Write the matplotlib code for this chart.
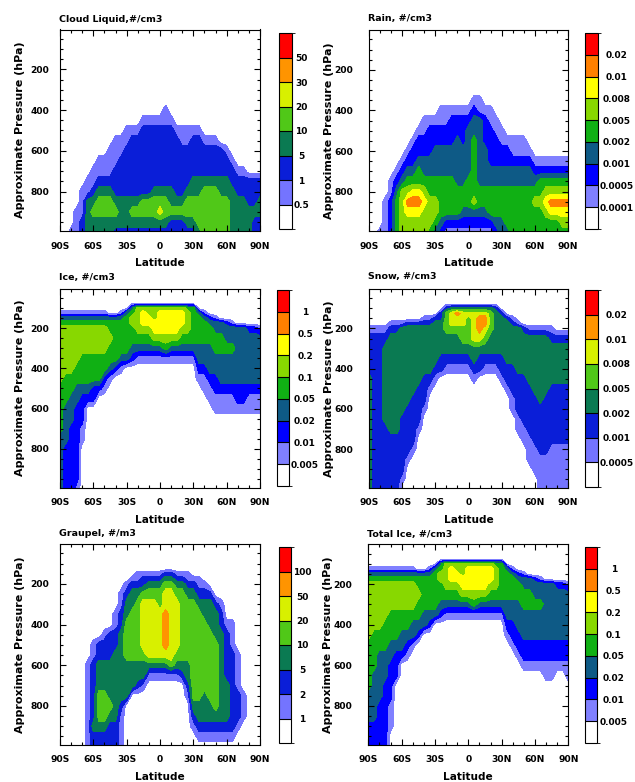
import numpy as np
import matplotlib.pyplot as plt
from matplotlib.colors import ListedColormap, BoundaryNorm
from matplotlib.cm import ScalarMappable
from matplotlib.ticker import MultipleLocator

plt.rcParams["font.family"] = "DejaVu Sans"
plt.rcParams["font.weight"] = "bold"
plt.rcParams["axes.labelweight"] = "bold"

W, H = 635, 782

# grid the colour bands were read on
lats = list(range(-90, 91, 5))
plev = [50, 75, 100, 125, 150, 175, 200, 250, 300, 350, 400, 450, 500,
        550, 600, 650, 700, 750, 800, 850, 900, 950, 1000]

lat_ticks = [-90, -60, -30, 0, 30, 60, 90]
lat_labels = ["90S", "60S", "30S", "0", "30N", "60N", "90N"]
p_ticks = [200, 400, 600, 800]

pal8 = ["#ffffff", "#7474ff", "#0a1ed8", "#0a7a52", "#50c818", "#d8f000", "#ff9400", "#ff0000"]
pal9 = ["#ffffff", "#8080ff", "#0000ff", "#0e5a86", "#10b014", "#88d800", "#ffff00", "#ff8000", "#ff0000"]

liq_levels = ["0.5", "1", "5", "10", "20", "30", "50"]
rain_levels = ["0.0001", "0.0005", "0.001", "0.002", "0.005", "0.008", "0.01", "0.02"]
ice_levels = ["0.005", "0.01", "0.02", "0.05", "0.1", "0.2", "0.5", "1"]
snow_levels = ["0.0005", "0.001", "0.002", "0.005", "0.008", "0.01", "0.02"]
graupel_levels = ["1", "2", "5", "10", "20", "50", "100"]
totice_levels = ["0.005", "0.01", "0.02", "0.05", "0.1", "0.2", "0.5", "1"]

# one string per latitude (90S -> 90N), one digit per pressure level (50 -> 1000 hPa):
# index of the colour band seen in the picture at that point (0 = white)
liq_band = [
    "00000000000000000000000", "00000000000000000000000", "00000000000000000000001",
    "00000000000000000000111", "00000000000000000011122", "00000000000000000113333",
    "00000000000000001123433", "00000000000000011234433", "00000000000000011234433",
    "00000000000000111234433", "00000000000001112223432", "00000000000001122223332",
    "00000000000011222223332", "00000000000012222223432", "00000000000012222223432",
    "00000000000122222224432", "00000000000122222224432", "00000000000122222234432",
    "00000000000122222234532", "00000000001122222234432", "00000000000122222233422",
    "00000000000012222223422", "00000000000011222223422", "00000000000011222234432",
    "00000000000012222334432", "00000000000012222334443", "00000000000001222344444",
    "00000000000001222344444", "00000000000001222344444", "00000000000000222334444",
    "00000000000000122334444", "00000000000000012233333", "00000000000000001223333",
    "00000000000000001223333", "00000000000000000222333", "00000000000000000222322",
    "00000000000000000223322",
]
rain_band = [
    "00000000000000000000000", "00000000000000000000000", "00000000000000000000001",
    "00000000000000000001111", "00000000000000000112222", "00000000000000001234444",
    "00000000000000012355555", "00000000000000123457655", "00000000000001223467655",
    "00000000000012234467655", "00000000000112233456555", "00000000000122233445554",
    "00000000000122333445543", "00000000001122333444432", "00000000001122333444421",
    "00000000001222333444421", "00000000001223333344421", "00000000001222333344321",
    "00000000001233333444321", "00000000012334444445321", "00000000011333333344321",
    "00000000001222333344321", "00000000001122223344421", "00000000000112223344432",
    "00000000000011223344433", "00000000000001223344443", "00000000000001123344444",
    "00000000000001123344444", "00000000000001123344444", "00000000000000123344444",
    "00000000000000012345444", "00000000000000012445444", "00000000000000012456544",
    "00000000000000012457644", "00000000000000012457644", "00000000000000012457654",
    "00000000000000012457654",
]
ice_band = [
    "00013455555544444333333", "00013455555444333322222", "00013455555443332222222",
    "00013455554433222222221", "00013455544432221100000", "00013455544432000000000",
    "00013455544422000000000", "00013455544420000000000", "00013455544210000000000",
    "00003445443100000000000", "00003444442000000000000", "00013444431000000000000",
    "00034444430000000000000", "00345544320000000000000", "00555554310000000000000",
    "00566654310000000000000", "00556654310000000000000", "00555665310000000000000",
    "00566665310000000000000", "00566665410000000000000", "00566665310000000000000",
    "00566665310000000000000", "00566654310000000000000", "00455554310000000000000",
    "00444444310000000000000", "00034444332100000000000", "00013444332110000000000",
    "00002344333211000000000", "00001334433221100000000", "00000334433321100000000",
    "00000233433321100000000", "00000133433321100000000", "00000033333322100000000",
    "00000033333322100000000", "00000023333321100000000", "00000023333321100000000",
    "00000013333321100000000",
]
snow_band = [
    "00000012222333333333333", "00000012222222222222222", "00000012222222222222222",
    "00000012333333332222222", "00000123333333333222222", "00000123333333333222222",
    "00000133333333322222210", "00000233333333222221000", "00000233333332222210000",
    "00000233333322221000000", "00001233333222100000000", "00001233333210000000000",
    "00002333332100000000000", "00022333322000000000000", "00244443321000000000000",
    "00355543321000000000000", "00365543321000000000000", "00355544321000000000000",
    "00354444321000000000000", "00355555332100000000000", "00356665322000000000000",
    "00356654321000000000000", "00344443321000000000000", "00233333321000000000000",
    "00023333322100000000000", "00002333332210000000000", "00001233332221100000000",
    "00000133333222211000000", "00000023333222221100000", "00000013333322222111000",
    "00000013333332222211100", "00000013333333222221111", "00000013333332222221111",
    "00000012333322222211111", "00000002333322222211111", "00000002333322222211111",
    "00000002333322222211111",
]
graupel_band = [
    "00000000000000000000000", "00000000000000000000000", "00000000000000000000000",
    "00000000000000000000000", "00000000000000000000000", "00000000000000111111111",
    "00000000000011222222322", "00000000000022333444322", "00000000000122333444322",
    "00000000000222333343222", "00000000011223333333222", "00000001122333333321111",
    "00000012334444333300000", "00000123344444333000000", "00001123444444332000000",
    "00001224555554331000000", "00001234555555310000000", "00001234555555310000000",
    "00001234455555310000000", "00002345566665310000000", "00002345555555410000000",
    "00001234555554310000000", "00001234444444320000000", "00001123444444332100000",
    "00000123444444444432100", "00000112344444444433210", "00000012334444444333210",
    "00000002333444444433210", "00000000233344444443210", "00000000122333333333210",
    "00000000001222223333210", "00000000001112222222210", "00000000000001111222100",
    "00000000000000000111000", "00000000000000000000000", "00000000000000000000000",
    "00000000000000000000000",
]
totice_band = [
    "00013455555544444333222", "00013455555444433333222", "00013455555443333322222",
    "00013455554443332222222", "00013455544433222211100", "00013455544432220000000",
    "00013455544332000000000", "00013455544321000000000", "00013455543310000000000",
    "00003445443200000000000", "00003444433000000000000", "00013444432000000000000",
    "00034444430000000000000", "00345544320000000000000", "00555554310000000000000",
    "00566654310000000000000", "00556654310000000000000", "00555665310000000000000",
    "00566665310000000000000", "00566665410000000000000", "00566665310000000000000",
    "00566665310000000000000", "00566654310000000000000", "00455554310000000000000",
    "00444444310000000000000", "00034444332100000000000", "00013444332210000000000",
    "00002344333221000000000", "00001334433322100000000", "00000334433322100000000",
    "00000233433322100000000", "00000133433322100000000", "00000033333322110000000",
    "00000033333322110000000", "00000023333322100000000", "00000023333322100000000",
    "00000013333322110000000",
]

# pixel boxes: axes, colour bar, title centre y, label centre x of the bar
panels = [
    dict(title="Cloud Liquid,#/cm3", band=liq_band, pal=pal8, labels=liq_levels,
         ax=(60, 29.5, 260, 230.7), cb=(279, 33, 292, 229), ty=19, cbx=301.5),
    dict(title="Rain, #/cm3", band=rain_band, pal=pal9, labels=rain_levels,
         ax=(369, 30, 568, 230.7), cb=(585, 33, 598, 229), ty=19, cbx=617),
    dict(title="Ice, #/cm3", band=ice_band, pal=pal9, labels=ice_levels,
         ax=(60, 288.5, 260, 487.7), cb=(277, 290, 289, 486), ty=277, cbx=305),
    dict(title="Snow, #/cm3", band=snow_band, pal=pal8, labels=snow_levels,
         ax=(369, 289, 568, 487.7), cb=(585, 290, 598, 487), ty=276, cbx=617),
    dict(title="Graupel, #/m3", band=graupel_band, pal=pal8, labels=graupel_levels,
         ax=(60, 544, 260, 745), cb=(279, 547, 291, 743), ty=534, cbx=302.5),
    dict(title="Total Ice, #/cm3", band=totice_band, pal=pal9, labels=totice_levels,
         ax=(368.3, 544.3, 568.3, 745), cb=(585, 547, 597, 743), ty=534.5, cbx=614),
]


def rect(x0, y0, x1, y1):
    return [x0 / W, 1 - y1 / H, (x1 - x0) / W, (y1 - y0) / H]


fig = plt.figure(figsize=(W / 100, H / 100), dpi=100)

for p in panels:
    cols = p["band"]
    assert len(cols) == len(lats) and all(len(c) == len(plev) for c in cols)
    z = np.array([[int(ch) for ch in c] for c in cols]).T
    pal = p["pal"]
    n = len(pal)
    x0, y0, x1, y1 = p["ax"]
    left_col = x0 < 300

    ax = fig.add_axes(rect(x0, y0, x1, y1))
    ax.contourf(lats, plev, z, levels=np.arange(0.5, n, 1.0), colors=pal[1:])
    ax.set_xlim(-90, 90)
    ax.set_ylim(992.5, 3.64)
    ax.set_xticks(lat_ticks, lat_labels)
    ax.set_yticks(p_ticks)
    ax.xaxis.set_minor_locator(MultipleLocator(10))
    ax.yaxis.set_minor_locator(MultipleLocator(50))
    ax.tick_params(which="both", direction="in", top=True, right=True,
                   width=0.8, labelsize=6.6)
    ax.tick_params(which="major", length=4)
    ax.tick_params(which="minor", length=2.2)
    ax.tick_params(axis="x", pad=8 if y0 < 100 else 7.2)
    ax.tick_params(axis="y", pad=7.7 if left_col else 11.5)
    for s in ax.spines.values():
        s.set_linewidth(0.8)

    h = y1 - y0
    ax.set_xlabel("Latitude", fontsize=7.6)
    ax.xaxis.set_label_coords(0.5, -27 / h)
    ax.set_ylabel("Approximate Pressure (hPa)", fontsize=8)
    ax.yaxis.set_label_coords((25 - 60) / 200 if left_col else (334 - 369) / 199, 0.5)

    fig.text((x0 - 1) / W, 1 - p["ty"] / H, p["title"], ha="left", va="center",
             fontsize=6.8)

    cx0, cy0, cx1, cy1 = p["cb"]
    cax = fig.add_axes(rect(cx0, cy0, cx1, cy1))
    norm = BoundaryNorm(np.arange(n + 1), n)
    cb = fig.colorbar(ScalarMappable(norm=norm, cmap=ListedColormap(pal)),
                      cax=cax, drawedges=True)
    cb.set_ticks(np.arange(1, n), labels=p["labels"])
    cb.outline.set_linewidth(0.8)
    cb.dividers.set_linewidth(0.8)
    cax.tick_params(length=0, pad=(p["cbx"] - cx1) * 0.72, labelsize=6.5)
    for t in cax.get_yticklabels():
        t.set_ha("center")

fig.savefig("out.png", dpi=100)
